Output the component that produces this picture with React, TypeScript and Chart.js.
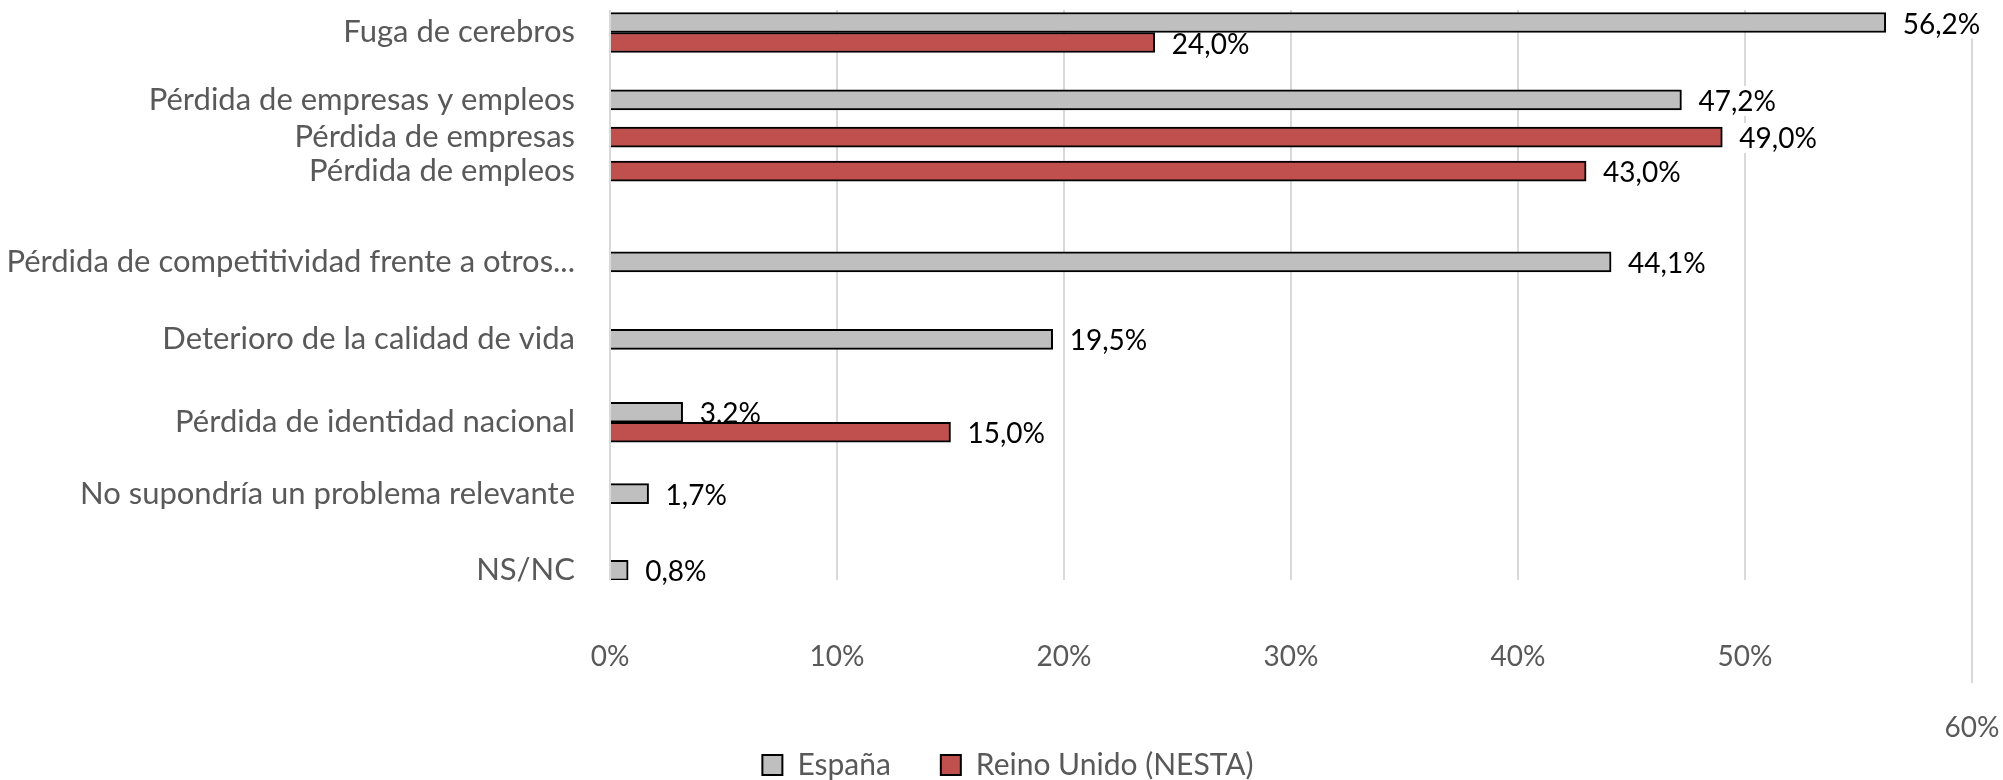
import React, { useEffect, useRef } from 'react';
import { Chart, registerables } from 'chart.js';

Chart.register(...registerables);

const categories = [
  'Fuga de cerebros',
  'Pérdida de empresas y empleos',
  'Pérdida de empresas',
  'Pérdida de empleos',
  'Pérdida de competitividad frente a otros...',
  'Deterioro de la calidad de vida',
  'Pérdida de identidad nacional',
  'No supondría un problema relevante',
  'NS/NC',
];
// slot of each category on the vertical (category) axis
const categorySlots = [0, 0.87, 1.35, 1.79, 2.96, 3.96, 5.03, 5.95, 6.94];
const espana: (number | null)[] = [56.2, 47.2, null, null, 44.1, 19.5, 3.2, 1.7, 0.8];
const reinoUnido: (number | null)[] = [24.0, null, 49.0, 43.0, null, null, 15.0, null, null];
const seriesNames = ['España', 'Reino Unido (NESTA)'];
const xTicks = [0, 10, 20, 30, 40, 50, 60];

const FONT = 'Lato';

const toPoints = (vals: (number | null)[]) =>
  vals
    .map((v, i) => (v == null ? null : { x: v, y: categorySlots[i] }))
    .filter((p) => p !== null);

const fmt = (v: number) => v.toFixed(1).replace('.', ',') + '%';

const valueLabels = {
  id: 'valueLabels',
  beforeDatasetsDraw(chart: any) {
    const ctx = chart.ctx;
    ctx.save();
    ctx.font = `28px ${FONT}`;
    ctx.textBaseline = 'middle';
    ctx.textAlign = 'left';
    chart.data.datasets.forEach((ds: any, di: number) => {
      const meta = chart.getDatasetMeta(di);
      meta.data.forEach((el: any, i: number) => {
        const raw = ds.data[i];
        if (!raw) return;
        const text = fmt(raw.x);
        const w = ctx.measureText(text).width;
        const x = el.x + 17;
        ctx.fillStyle = '#ffffff';
        ctx.fillRect(x - 2, el.y - 14, w + 4, 30);
        ctx.fillStyle = '#000000';
        ctx.fillText(text, x, el.y + 2);
      });
    });
    ctx.restore();
  },
};

// nudges the centred legend row a little to the right, as in the original
const legendNudge = {
  id: 'legendNudge',
  afterLayout(chart: any) {
    const l = chart.legend;
    if (l) {
      l.left += 22;
      l.right += 22;
    }
  },
};

export default function App() {
  const ref = useRef<HTMLCanvasElement>(null);

  useEffect(() => {
    if (!ref.current) return;
    const chart = new Chart(ref.current, {
      type: 'bar',
      data: {
        datasets: [
          {
            label: seriesNames[0],
            data: toPoints(espana) as any,
            backgroundColor: '#BFBFBF',
            borderColor: '#000000',
            borderWidth: 2,
            barThickness: 20,
            skipNull: true,
          },
          {
            label: seriesNames[1],
            data: toPoints(reinoUnido) as any,
            backgroundColor: '#C0504D',
            borderColor: '#000000',
            borderWidth: 2,
            barThickness: 20,
            skipNull: true,
          },
        ],
      },
      options: {
        indexAxis: 'y',
        responsive: false,
        animation: false,
        layout: { padding: { top: 10, right: 31, left: 0, bottom: 0 } },
        scales: {
          x: {
            type: 'linear',
            position: 'bottom',
            min: 0,
            max: 60,
            afterBuildTicks: (s: any) => {
              s.ticks = xTicks.map((v) => ({ value: v }));
            },
            afterFit: (s: any) => {
              s.height = 120;
              s.paddingLeft = 0;
              s.paddingRight = 0;
            },
            grid: {
              color: '#D9D9D9',
              lineWidth: 2,
              drawTicks: true,
              tickLength: 103,
              tickWidth: 2,
              tickColor: (c: any) =>
                c.tick && c.tick.value === 60 ? '#D9D9D9' : 'rgba(0,0,0,0)',
            },
            border: { display: false },
            ticks: {
              mirror: true,
              padding: -95,
              autoSkip: false,
              maxRotation: 0,
              color: '#595959',
              font: { family: FONT, size: 28, lineHeight: 1.27 },
              callback: (v: any) => (v === 60 ? ['', '', v + '%'] : v + '%'),
            },
          },
          y: {
            type: 'linear',
            position: 'left',
            reverse: true,
            offset: false,
            min: -0.29,
            max: 7.065,
            afterBuildTicks: (s: any) => {
              s.ticks = categorySlots.map((v) => ({ value: v }));
            },
            afterFit: (s: any) => {
              s.width = 610;
              s.paddingTop = 0;
              s.paddingBottom = 0;
            },
            grid: { display: false, offset: false },
            border: { display: false },
            ticks: {
              autoSkip: false,
              padding: 27,
              color: '#595959',
              font: { family: FONT, size: 31 },
              callback: (_v: any, i: number) => categories[i],
            },
          },
        },
        plugins: {
          legend: {
            position: 'bottom',
            labels: {
              boxWidth: 20,
              boxHeight: 20,
              padding: 50,
              color: '#595959',
              font: { family: FONT, size: 30 },
            },
          },
          tooltip: { enabled: false },
        },
      } as any,
      plugins: [valueLabels, legendNudge],
    });
    return () => chart.destroy();
  }, []);

  return (
    <div style={{ position: 'fixed', left: 0, top: 0, width: '2003px', height: '790px', background: '#fff' }}>
      <canvas ref={ref} width={2003} height={790} style={{ display: 'block' }} />
    </div>
  );
}
